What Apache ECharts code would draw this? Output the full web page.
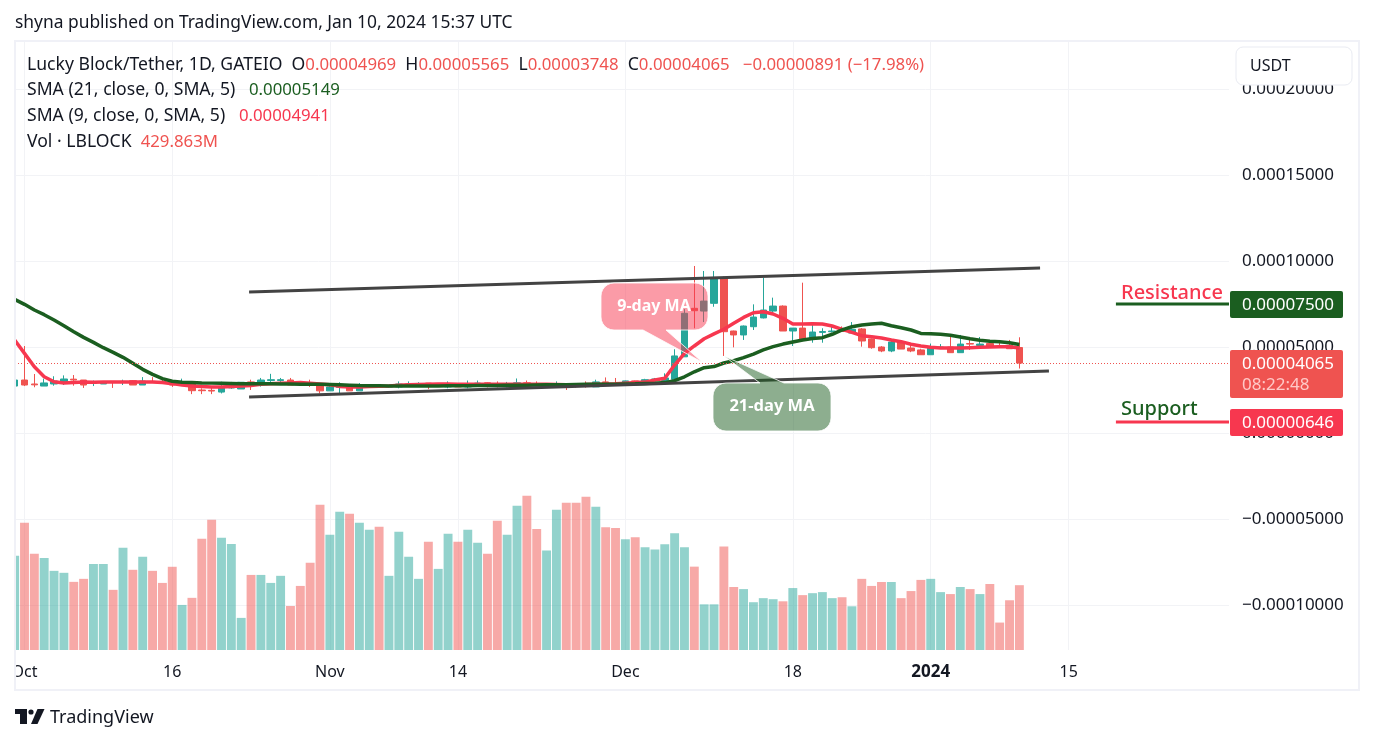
<!DOCTYPE html>
<html>
<head>
<meta charset="utf-8">
<title>Lucky Block/Tether</title>
<script src="https://cdn.jsdelivr.net/npm/echarts@6/dist/echarts.min.js"></script>
<style>
  html, body { margin: 0; padding: 0; background: #fff; }
  #grafik { width: 1374px; height: 744px; }
</style>
</head>
<body>
<div id="grafik"></div>
<script>
// prices are in units of 0.00001, volume in millions, day 0 is Oct 1 2023
var firstDay = -1
var opens = [
  2.73,3.08,2.85,2.73,2.85,2.91,3.13,3.08,2.88,2.85,
  3.00,2.97,3.04,2.79,3.00,3.00,3.04,2.85,2.89,2.50,
  2.48,2.38,2.62,2.56,2.97,2.85,3.05,3.05,3.08,2.90,
  2.90,2.74,2.45,2.65,2.70,2.45,2.68,2.76,2.68,2.68,
  2.79,2.82,2.90,2.74,2.68,2.80,2.68,2.80,2.92,2.85,
  2.80,2.72,2.92,2.85,2.80,2.82,2.82,2.76,2.80,2.68,
  2.97,2.88,2.87,3.03,2.87,3.08,3.05,3.12,4.43,7.25,
  7.09,7.54,9.03,5.93,5.70,6.18,6.69,7.09,7.38,5.93,
  6.10,5.48,5.85,5.89,5.93,5.81,6.05,5.47,5.00,4.77,
  5.29,4.94,4.83,4.55,4.94,5.00,4.67,5.20,5.09,5.20,
  5.05,5.10,4.969
]
var closes = [
  3.08,2.79,2.80,2.91,3.02,3.14,3.08,2.79,2.93,2.97,
  2.97,3.00,2.79,3.02,2.97,2.97,2.79,2.91,2.46,2.46,
  2.44,2.62,2.68,2.95,2.91,3.08,3.10,3.10,2.79,2.82,
  2.85,2.45,2.68,2.72,2.45,2.68,2.74,2.68,2.72,2.85,
  2.85,2.88,2.70,2.79,2.88,2.68,2.85,2.90,2.76,2.82,
  2.84,2.92,2.74,2.82,2.84,2.85,2.79,2.72,2.77,2.97,
  2.88,2.85,3.03,2.87,3.10,3.14,3.20,4.48,6.96,7.11,
  7.67,9.03,5.89,5.70,6.22,6.74,7.15,7.38,5.93,6.10,
  5.45,5.87,5.90,5.93,5.90,6.03,5.35,4.96,4.77,5.29,
  4.88,4.77,4.55,4.94,5.00,4.67,5.17,5.17,5.17,5.02,
  5.00,4.90,4.065
]
var lows = [
  2.73,2.73,2.66,2.73,2.75,2.79,2.75,2.62,2.73,2.85,
  2.62,2.79,2.79,2.79,2.94,2.94,2.68,2.82,2.26,2.26,
  2.26,2.30,2.57,2.56,2.50,2.70,2.97,2.97,2.79,2.80,
  2.68,2.30,2.45,2.26,2.45,2.45,2.68,2.68,2.66,2.60,
  2.68,2.74,2.55,2.70,2.60,2.68,2.60,2.70,2.65,2.65,
  2.65,2.65,2.74,2.72,2.72,2.70,2.50,2.64,2.64,2.68,
  2.85,2.76,2.87,2.80,2.87,3.00,3.00,3.12,4.43,6.09,
  6.45,7.34,4.48,4.98,5.41,5.99,6.66,6.86,5.93,5.06,
  5.42,5.25,5.25,5.85,5.88,5.81,5.02,4.90,4.70,4.70,
  4.88,4.70,4.55,4.55,4.94,4.67,4.67,4.83,4.98,5.00,
  4.94,4.90,3.748
]
var highs = [
  3.08,5.06,3.43,3.16,3.30,3.35,3.37,3.08,3.05,2.97,
  3.02,3.10,3.08,3.25,3.25,3.22,3.04,3.16,2.89,2.60,
  2.70,2.98,2.97,2.95,3.10,3.20,3.44,3.20,3.20,2.90,
  3.10,2.74,2.90,2.95,2.72,2.90,2.76,2.85,2.76,3.00,
  3.00,2.95,2.90,2.82,3.00,2.85,3.05,3.05,2.95,3.00,
  2.97,3.17,3.05,3.00,2.90,3.00,2.82,2.80,3.00,3.10,
  3.23,3.20,3.05,3.05,3.15,3.20,3.47,4.87,7.20,9.71,
  9.42,9.42,9.10,5.95,6.25,7.48,9.03,7.87,7.42,6.10,
  8.74,6.38,6.09,6.18,6.20,6.45,6.10,5.50,5.05,5.47,
  5.30,5.20,4.90,5.20,5.17,5.70,5.70,5.58,5.58,5.35,
  5.41,5.41,5.565
]
var sma21 = [
  7.77,7.48,7.15,6.88,6.57,6.24,5.89,5.56,5.27,4.96,
  4.69,4.40,4.05,3.70,3.41,3.16,3.01,2.95,2.93,2.91,
  2.90,2.89,2.88,2.87,2.87,2.86,2.86,2.85,2.85,2.84,
  2.84,2.83,2.82,2.80,2.78,2.76,2.75,2.75,2.74,2.74,
  2.74,2.74,2.74,2.74,2.75,2.75,2.75,2.76,2.76,2.76,
  2.77,2.78,2.78,2.79,2.80,2.80,2.81,2.82,2.83,2.83,
  2.84,2.84,2.85,2.86,2.88,2.90,2.93,3.04,3.27,3.56,
  3.80,3.86,4.07,4.20,4.38,4.59,4.83,5.02,5.17,5.29,
  5.41,5.50,5.54,5.74,5.99,6.18,6.28,6.34,6.38,6.24,
  6.12,5.99,5.79,5.77,5.74,5.68,5.58,5.48,5.39,5.33,
  5.31,5.25,5.149
]
var sma9 = [
  5.41,4.63,3.85,3.27,2.98,2.91,2.93,2.97,2.95,2.97,
  2.97,2.97,2.97,2.97,2.97,2.93,2.87,2.79,2.73,2.70,
  2.68,2.68,2.70,2.73,2.76,2.83,2.87,2.89,2.91,2.93,
  2.89,2.85,2.81,2.71,2.68,2.68,2.70,2.72,2.74,2.77,
  2.80,2.82,2.84,2.85,2.85,2.84,2.83,2.83,2.84,2.84,
  2.83,2.83,2.84,2.84,2.83,2.82,2.81,2.81,2.82,2.84,
  2.85,2.87,2.90,2.93,2.96,3.08,3.18,3.95,4.63,5.06,
  5.48,5.76,6.03,6.38,6.72,6.99,7.05,6.92,6.67,6.34,
  6.34,6.35,6.34,6.22,6.03,5.85,5.66,5.60,5.52,5.41,
  5.31,5.16,5.06,4.98,4.94,4.94,4.94,4.96,4.98,5.00,
  5.02,5.02,4.941
]
var volumes = [
  625,844,638,611,525,512,452,472,571,571,
  399,678,532,618,525,445,552,299,346,738,
  864,744,704,213,498,498,445,492,292,425,
  578,964,764,917,904,844,797,817,492,784,
  618,472,718,538,771,718,797,711,638,857,
  764,957,1024,802,660,930,977,977,1017,950,
  815,809,734,748,681,667,701,775,681,553,
  303,303,687,418,404,317,344,337,323,411,
  364,377,384,344,350,290,472,425,451,451,
  344,391,465,472,384,371,418,404,371,438,
  182,330,430
]
// volume bars have their own colour in the picture, 1 = teal
var volumeUp = [
  1,0,0,1,1,1,0,0,1,1,
  0,1,0,1,0,0,0,1,0,0,
  0,1,1,1,0,1,1,1,0,0,
  0,0,1,1,0,1,1,0,1,1,
  1,1,0,1,1,0,1,1,0,0,
  1,1,0,0,1,1,0,0,0,1,
  0,0,1,0,1,1,1,1,1,0,
  1,1,0,0,1,1,1,1,0,1,
  0,1,1,1,0,1,0,0,0,1,
  0,0,0,1,1,0,1,0,1,0,
  0,0,0
]
var priceTicks = [-10, -5, 0, 5, 10, 15, 20]
var dayTicks = [0, 15, 31, 44, 61, 78, 92, 106]
var dayLabels = ['Oct', '16', 'Nov', '14', 'Dec', '18', '2024', '15']
var upperTrendX = [22.8, 103.1]
var upperTrendY = [8.2, 9.59]
var lowerTrendX = [22.8, 104]
var lowerTrendY = [2.09, 3.6]
var resistance = 7.5
var support = 0.646

var TEAL = '#26a69a', RED = '#ef5350', SMA_RED = '#f7374f', SMA_GREEN = '#1b5e20'
var INK = '#131722'
var FONT = '"Noto Sans", sans-serif'

function price(v) { return (v * 1e-5).toFixed(8) }
function xy(xs, ys) { return xs.map(function (x, i) { return [x, ys[i]] }) }
function series2(values) { return values.map(function (v, i) { return [i + firstDay, v] }) }

var candleData = opens.map(function (o, i) {
  return [i + firstDay, o, closes[i], lows[i], highs[i]]
})
var volumeData = volumes.map(function (v, i) {
  return {
    value: [i + firstDay, v],
    itemStyle: { color: volumeUp[i] ? 'rgba(38,166,154,0.5)' : 'rgba(239,83,80,0.5)' }
  }
})

// rounded box with a pointer, used for the two annotation bubbles
function bubble(x0, y0, x1, y1, r, pointer) {
  var pts = []
  function arc(cx, cy, from) {
    for (var k = 0; k <= 6; k++) {
      var a = (from + k * 15) * Math.PI / 180
      pts.push([cx + r * Math.cos(a), cy + r * Math.sin(a)])
    }
  }
  arc(x0 + r, y0 + r, 180)
  if (pointer.side === 'top') pts = pts.concat(pointer.pts)
  arc(x1 - r, y0 + r, 270)
  arc(x1 - r, y1 - r, 0)
  if (pointer.side === 'bottom') pts = pts.concat(pointer.pts)
  arc(x0 + r, y1 - r, 90)
  return pts
}

function label(x, y, text, size, color, extra) {
  var style = { x: x, y: y, text: text, fill: color, font: (extra && extra.weight || 'normal') + ' ' + size + 'px ' + FONT, textVerticalAlign: 'middle', textAlign: extra && extra.align || 'left' }
  return { type: 'text', z: 20, style: style }
}

function tag(y, h, color) {
  return { type: 'rect', z: 15, shape: { x: 1230, y: y, width: 113, height: h, r: 2 }, style: { fill: color } }
}

var headerRich = {
  d: { fill: INK, fontSize: 17.6, fontFamily: FONT },
  r: { fill: RED, fontSize: 16.8, fontFamily: FONT },
  g: { fill: SMA_GREEN, fontSize: 16.8, fontFamily: FONT },
  s: { fill: SMA_RED, fontSize: 16.8, fontFamily: FONT }
}
function headerRow(y, text) {
  return { type: 'text', z: 20, x: 27, y: y, style: { text: text, rich: headerRich, verticalAlign: 'middle' } }
}

var grafik = echarts.init(document.getElementById('grafik'), null, { renderer: 'canvas' })

var option = {
  backgroundColor: '#fff',
  animation: false,
  grid: { left: 15, top: 41, width: 1214, height: 609, containLabel: false },
  xAxis: {
    type: 'value',
    min: -0.964,
    max: 122.28,
    axisLine: { show: false },
    axisTick: { show: false, customValues: dayTicks },
    splitLine: { show: true, lineStyle: { color: '#f2f3f6', width: 1 } },
    axisLabel: {
      customValues: dayTicks,
      margin: 14,
      color: INK,
      fontFamily: FONT,
      fontSize: 16,
      hideOverlap: false,
      showMinLabel: true,
      showMaxLabel: true,
      formatter: function (v) {
        var t = dayLabels[dayTicks.indexOf(v)]
        return t === '2024' ? '{b|2024}' : t
      },
      rich: { b: { fontWeight: 'bold', fontSize: 17, fontFamily: FONT, color: INK } }
    }
  },
  yAxis: [
    {
      type: 'value',
      position: 'right',
      min: -12.616,
      max: 22.791,
      axisLine: { show: false },
      axisTick: { show: false, customValues: priceTicks },
      splitLine: { show: true, lineStyle: { color: '#f2f3f6', width: 1 } },
      axisLabel: {
        customValues: priceTicks,
        margin: 13,
        color: INK,
        fontFamily: FONT,
        fontSize: 17,
        align: 'left',
        padding: [5, 0, 0, 0],
        formatter: function (v) {
          return v < 0 ? '\u2212' + price(-v) : price(v)
        }
      }
    },
    { type: 'value', min: 0, max: 4040, show: false, splitLine: { show: false } }
  ],
  series: [
    {
      type: 'bar',
      name: 'Vol',
      yAxisIndex: 1,
      barWidth: 8.9,
      data: volumeData,
      z: 1
    },
    {
      type: 'candlestick',
      name: 'LBLOCK',
      barWidth: 7,
      encode: { x: 0, y: [1, 2, 3, 4] },
      data: candleData,
      itemStyle: { color: TEAL, color0: RED, borderColor: TEAL, borderColor0: RED, borderWidth: 1 },
      z: 2,
      markLine: {
        silent: true,
        symbol: 'none',
        label: { show: false },
        lineStyle: { color: RED, type: [1, 2], width: 1 },
        data: [{ yAxis: closes[closes.length - 1] }]
      }
    },
    {
      type: 'line', name: 'SMA 9', data: series2(sma9), showSymbol: false, z: 3,
      lineStyle: { color: SMA_RED, width: 3.5 }
    },
    {
      type: 'line', name: 'SMA 21', data: series2(sma21), showSymbol: false, z: 4,
      lineStyle: { color: SMA_GREEN, width: 3.5 }
    },
    {
      type: 'line', name: 'upper', data: xy(upperTrendX, upperTrendY), showSymbol: false, z: 4,
      lineStyle: { color: '#434343', width: 3 }
    },
    {
      type: 'line', name: 'lower', data: xy(lowerTrendX, lowerTrendY), showSymbol: false, z: 4,
      lineStyle: { color: '#434343', width: 3 }
    },
    {
      type: 'line', name: 'resistance', data: [[110.8, resistance], [122.28, resistance]], showSymbol: false, z: 4,
      lineStyle: { color: SMA_GREEN, width: 3 }
    },
    {
      type: 'line', name: 'support', data: [[110.8, support], [122.28, support]], showSymbol: false, z: 4,
      lineStyle: { color: SMA_RED, width: 3 }
    }
  ],
  graphic: {
    elements: [
      // frame, the white strip hides the Sep 30 bar left of the plot and part of "Oct"
      { type: 'rect', z: 12, shape: { x: 0, y: 30, width: 15, height: 670 }, style: { fill: '#fff' } },
      { type: 'rect', z: 13, shape: { x: 15, y: 41, width: 1344, height: 649 }, style: { fill: 'none', stroke: '#f0f1f7', lineWidth: 2 } },

      // title + legend
      label(15, 23, 'shyna published on TradingView.com, Jan 10, 2024 15:37 UTC', 17.4, INK),
      headerRow(65, '{d|Lucky Block/Tether, 1D, GATEIO  O}{r|0.00004969}{d|  H}{r|0.00005565}{d|  L}{r|0.00003748}{d|  C}{r|0.00004065   \u22120.00000891 (\u221217.98%)}'),
      headerRow(90, '{d|SMA (21, close, 0, SMA, 5)   }{g|0.00005149}'),
      headerRow(116, '{d|SMA (9, close, 0, SMA, 5)   }{s|0.00004941}'),
      headerRow(142, '{d|Vol \u00b7 LBLOCK  }{r|429.863M}'),

      // currency button
      { type: 'rect', z: 15, shape: { x: 1236, y: 47, width: 116, height: 38, r: 7 }, style: { fill: '#fff', stroke: '#e9ebf2', lineWidth: 1 } },
      label(1250, 66, 'USDT', 16, INK),

      // bubbles
      {
        type: 'polygon', z: 14,
        shape: { points: bubble(601, 283, 708, 330, 13, { side: 'bottom', pts: [[666, 330], [702, 362], [643, 330]] }) },
        style: { fill: 'rgba(247,55,79,0.5)', stroke: 'rgba(255,255,255,0.8)', lineWidth: 1 }
      },
      label(654, 306, '9-day MA', 16, '#fff', { align: 'center', weight: 'bold' }),
      {
        type: 'polygon', z: 14,
        shape: { points: bubble(713, 383, 831, 431, 13, { side: 'top', pts: [[760, 383], [724, 356], [784, 383]] }) },
        style: { fill: 'rgba(27,94,32,0.5)', stroke: 'rgba(255,255,255,0.8)', lineWidth: 1 }
      },
      label(772, 406, '21-day MA', 16.5, '#fff', { align: 'center', weight: 'bold' }),

      // level labels and price tags
      label(1121, 293, 'Resistance', 20, SMA_RED, { weight: '500' }),
      label(1121, 409, 'Support', 20, SMA_GREEN, { weight: '500' }),
      tag(291, 27, SMA_GREEN),
      label(1242, 305, price(resistance), 17, '#fff'),
      tag(350, 48, RED),
      label(1242, 364, price(closes[closes.length - 1]), 17, '#fff'),
      label(1242, 385, '08:22:48', 17, '#ffc9c7'),
      tag(409, 27, SMA_RED),
      label(1242, 423, price(support), 17, '#fff'),

      // logo
      { type: 'polygon', z: 20, shape: { points: [[15, 709], [27, 709], [27, 724], [20, 724], [20, 714], [15, 714]] }, style: { fill: INK } },
      { type: 'circle', z: 20, shape: { cx: 31, cy: 712, r: 2.6 }, style: { fill: INK } },
      { type: 'polygon', z: 20, shape: { points: [[37.5, 709], [44.5, 709], [37.5, 724], [31, 724]] }, style: { fill: INK } },
      label(50, 718, 'TradingView', 18, INK)
    ]
  }
}
grafik.setOption(option)
</script>
</body>
</html>
